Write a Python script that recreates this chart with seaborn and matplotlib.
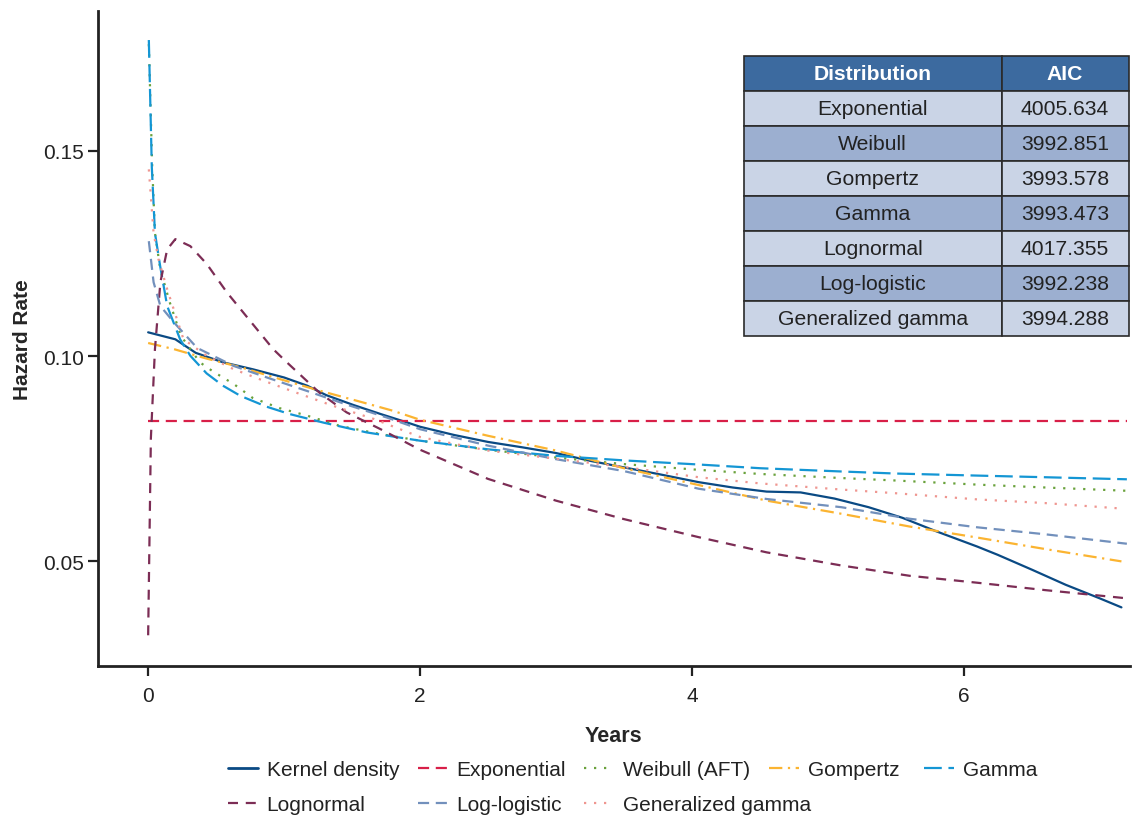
import numpy as np
import pandas as pd
import seaborn as sns
import matplotlib.pyplot as plt

# values
kernel_x = [0, 0.2, 0.35, 0.55, 0.77, 1.0, 1.17, 1.31, 1.51, 1.71, 1.9, 2.0, 2.25, 2.5, 2.75,
            3.0, 3.25, 3.5, 3.75, 4.05, 4.3, 4.55, 4.8, 5.05, 5.3, 5.55, 5.8, 6.1, 6.25, 6.5,
            6.75, 7.0, 7.16]
kernel_y = [0.1058, 0.1041, 0.1008, 0.0985, 0.0968, 0.0948, 0.0928, 0.0905, 0.0881, 0.0859,
            0.0839, 0.0828, 0.0808, 0.0791, 0.0778, 0.0764, 0.0745, 0.0729, 0.0713, 0.0693,
            0.0680, 0.0670, 0.0668, 0.0653, 0.0632, 0.0606, 0.0573, 0.0536, 0.0516, 0.0480,
            0.0443, 0.0410, 0.0388]

expo_x = [0, 7.2]
expo_y = [0.0841, 0.0841]

weibull_x = [0.005, 0.03, 0.05, 0.09, 0.16, 0.24, 0.38, 0.48, 0.63, 0.77, 0.97, 1.17, 1.41,
             1.71, 2.0, 2.5, 3.0, 3.5, 4.05, 4.5, 5.1, 5.5, 6.1, 6.6, 7.2]
weibull_y = [0.176, 0.146, 0.130, 0.121, 0.113, 0.105, 0.0985, 0.0962, 0.0932, 0.0898, 0.0873,
             0.0855, 0.0830, 0.0810, 0.0794, 0.0772, 0.0753, 0.0737, 0.0723, 0.0713, 0.0703,
             0.0697, 0.0687, 0.0680, 0.0672]

gompertz_x = [0, 0.19, 0.43, 0.68, 0.97, 1.26, 1.56, 1.8, 2.0, 2.5, 3.0, 3.5, 4.05, 4.55, 5.1,
              5.6, 6.1, 6.6, 7.16]
gompertz_y = [0.1032, 0.1017, 0.0994, 0.0973, 0.0944, 0.0916, 0.0889, 0.0867, 0.0845, 0.0806,
              0.0770, 0.0727, 0.0686, 0.0648, 0.0616, 0.0585, 0.0558, 0.0530, 0.0500]

gamma_x = [0.005, 0.027, 0.05, 0.088, 0.14, 0.235, 0.31, 0.43, 0.55, 0.68, 0.87, 1.04, 1.29,
           1.61, 2.0, 2.5, 3.0, 3.5, 4.05, 4.5, 5.1, 5.5, 6.1, 6.6, 7.2]
gamma_y = [0.177, 0.146, 0.130, 0.122, 0.1122, 0.1041, 0.1001, 0.0958, 0.0928, 0.0903, 0.0877,
           0.0859, 0.0838, 0.0814, 0.0794, 0.0773, 0.0757, 0.0746, 0.0736, 0.0727, 0.0719,
           0.0714, 0.0709, 0.0705, 0.0700]

lognormal_x = [0.0, 0.02, 0.05, 0.09, 0.14, 0.2, 0.31, 0.43, 0.58, 0.73, 0.92, 1.02, 1.26, 1.46,
               1.71, 2.0, 2.5, 3.0, 3.5, 4.05, 4.55, 5.1, 5.6, 6.1, 6.6, 7.2]
lognormal_y = [0.032, 0.080, 0.1017, 0.118, 0.126, 0.1285, 0.1268, 0.1225, 0.1155, 0.1094,
               0.1017, 0.0985, 0.0911, 0.0863, 0.0822, 0.0772, 0.0701, 0.0648, 0.0603, 0.0559,
               0.0522, 0.0490, 0.0465, 0.0448, 0.0430, 0.0410]

loglogistic_x = [0.005, 0.04, 0.09, 0.19, 0.36, 0.63, 0.9, 1.17, 1.46, 1.76, 2.0, 2.5, 3.0, 3.5,
                 4.05, 4.55, 5.1, 5.6, 6.1, 6.6, 7.2]
loglogistic_y = [0.128, 0.118, 0.1122, 0.1082, 0.1020, 0.0976, 0.0945, 0.0915, 0.0882, 0.0850,
                 0.0822, 0.0782, 0.0749, 0.0720, 0.0677, 0.0652, 0.0632, 0.0604, 0.0583, 0.0566,
                 0.0543]

gengamma_x = [0.005, 0.04, 0.076, 0.14, 0.26, 0.43, 0.63, 0.85, 1.09, 1.36, 1.66, 2.0, 2.5, 3.0,
              3.5, 4.05, 4.5, 5.1, 5.5, 6.1, 6.6, 7.15]
gengamma_y = [0.1455, 0.130, 0.1236, 0.1163, 0.1041, 0.1001, 0.0968, 0.0940, 0.0911, 0.0879,
              0.0847, 0.0803, 0.0770, 0.0750, 0.0730, 0.0705, 0.0690, 0.0675, 0.0666, 0.0651,
              0.0642, 0.0629]

table_dists = ["Exponential", "Weibull", "Gompertz", "Gamma", "Lognormal", "Log-logistic",
               "Generalized gamma"]
table_aic = ["4005.634", "3992.851", "3993.578", "3993.473", "4017.355", "3992.238", "3994.288"]

series = {
    "Kernel density": (kernel_x, kernel_y),
    "Exponential": (expo_x, expo_y),
    "Weibull (AFT)": (weibull_x, weibull_y),
    "Gompertz": (gompertz_x, gompertz_y),
    "Gamma": (gamma_x, gamma_y),
    "Lognormal": (lognormal_x, lognormal_y),
    "Log-logistic": (loglogistic_x, loglogistic_y),
    "Generalized gamma": (gengamma_x, gengamma_y),
}
df = pd.concat([pd.DataFrame({"Years": x, "Hazard Rate": y, "Model": name})
                for name, (x, y) in series.items()], ignore_index=True)

colors = {
    "Kernel density": "#0a4a84",
    "Exponential": "#d81f48",
    "Weibull (AFT)": "#6aa23c",
    "Gompertz": "#fbb431",
    "Gamma": "#1496d4",
    "Lognormal": "#7c2d55",
    "Log-logistic": "#7290bc",
    "Generalized gamma": "#ef9690",
}
dashes = {
    "Kernel density": "",
    "Exponential": (5, 3),
    "Weibull (AFT)": (1, 3.5),
    "Gompertz": (6, 2.5, 1, 2.5),
    "Gamma": (8, 3),
    "Lognormal": (4.5, 3.5),
    "Log-logistic": (5, 3),
    "Generalized gamma": (1, 3.5),
}

sns.set_style("ticks")
plt.rcParams["font.family"] = ["Liberation Sans", "DejaVu Sans"]

fig, ax = plt.subplots(figsize=(11.41, 8.2), dpi=100)
fig.subplots_adjust(left=0.086, right=0.990, bottom=0.187, top=0.985)

sns.lineplot(data=df, x="Years", y="Hazard Rate", hue="Model", style="Model",
             palette=colors, dashes=dashes, estimator=None, sort=False,
             linewidth=1.6, ax=ax, legend=True)
for line in ax.lines:
    if line.get_label() == "Kernel density":
        line.set_linewidth(2.0)

ax.set_xlim(-0.368, 7.22)
ax.set_ylim(0.0246, 0.184)
ax.set_xticks([0, 2, 4, 6])
ax.set_yticks([0.05, 0.10, 0.15])
ax.set_yticklabels(["0.05", "0.10", "0.15"])
sns.despine(ax=ax)
for side in ["left", "bottom"]:
    ax.spines[side].set_linewidth(2.0)
    ax.spines[side].set_color("#222222")
ax.tick_params(axis="both", length=7, width=1.6, color="#222222", labelsize=15,
               labelcolor="#222222")
ax.tick_params(axis="x", pad=8)
ax.tick_params(axis="y", pad=3)
ax.set_xlabel("Years", fontsize=15.5, fontweight="bold", labelpad=14)
ax.set_ylabel("Hazard Rate", fontsize=15, fontweight="bold", labelpad=8)

# legend: one small legend per entry, laid out as two rows like the reference
handles, labels = ax.get_legend_handles_labels()
lookup = dict(zip(labels, handles))
ax.legend_.remove()
legend_slots = [
    ("Kernel density", 228, 771), ("Exponential", 418, 771), ("Weibull (AFT)", 584, 771),
    ("Gompertz", 769, 771), ("Gamma", 924, 771),
    ("Lognormal", 228, 806), ("Log-logistic", 418, 806), ("Generalized gamma", 584, 806),
]
W, H = 1141, 820
for name, px, py in legend_slots:
    leg = fig.legend([lookup[name]], [name], loc="center left",
                     bbox_to_anchor=(px / W, 1 - py / H), frameon=False, fontsize=15,
                     handlelength=1.45, handletextpad=0.4, borderpad=0, borderaxespad=0)
    for t in leg.get_texts():
        t.set_color("#222222")

# AIC table
tab = ax.table(cellText=[[d, a] for d, a in zip(table_dists, table_aic)],
               colLabels=["Distribution", "AIC"], cellLoc="center",
               colWidths=[0.67, 0.33], bbox=[0.626, 0.504, 0.373, 0.427])
tab.auto_set_font_size(False)
for (r, c), cell in tab.get_celld().items():
    cell.set_edgecolor("#2a2a2a")
    cell.set_linewidth(1.2)
    cell.get_text().set_fontsize(15.2)
    if r == 0:
        cell.set_facecolor("#3c6a9f")
        cell.get_text().set_color("white")
        cell.get_text().set_fontweight("bold")
    else:
        cell.set_facecolor("#cad4e6" if r % 2 == 1 else "#9cafd0")
        cell.get_text().set_color("#222222")

fig.savefig("out.png", dpi=100)
